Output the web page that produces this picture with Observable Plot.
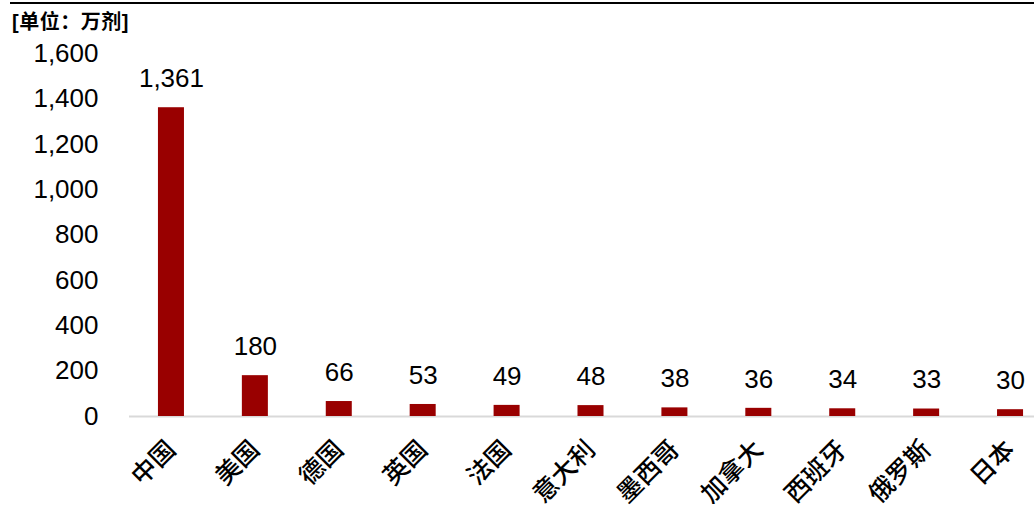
<!DOCTYPE html>
<html>
<head>
<meta charset="utf-8">
<script src="https://cdn.jsdelivr.net/npm/d3@7"></script>
<script src="https://cdn.jsdelivr.net/npm/@observablehq/plot@0.6"></script>
<style>
  html, body { margin: 0; padding: 0; background: #fff; }
  #wrap { position: relative; width: 1034px; height: 508px; overflow: hidden; }
  #topline { position: absolute; left: 10px; top: 2px; width: 1024px; height: 2px; background: #000; }
  #unit { position: absolute; left: 12px; top: 10px; font: bold 20px "Liberation Sans", "Noto Sans CJK SC", sans-serif; color: #000; line-height: 24px; letter-spacing: 0.5px; }
  svg { font-family: "Liberation Sans", "Noto Sans CJK SC", sans-serif; }
</style>
</head>
<body>
<div id="wrap">
  <div id="topline"></div>
  <div id="unit">[单位：万剂]</div>
  <div id="chart"></div>
</div>
<script>
const countries = ["中国", "美国", "德国", "英国", "法国", "意大利", "墨西哥", "加拿大", "西班牙", "俄罗斯", "日本"];
const doses = [1361, 180, 66, 53, 49, 48, 38, 36, 34, 33, 30];
const yTicks = [0, 200, 400, 600, 800, 1000, 1200, 1400, 1600];

const data = countries.map((c, i) => ({country: c, value: doses[i]}));
const fmt = d3.format(",");

const chart = Plot.plot({
  width: 1034,
  height: 508,
  marginTop: 53,
  marginBottom: 92,
  marginLeft: 129,
  marginRight: 0,
  style: {fontFamily: '"Liberation Sans", "Noto Sans CJK SC", sans-serif', background: "transparent", overflow: "visible"},
  x: {domain: countries, range: [129, 1052], paddingInner: 0.69, paddingOuter: 0.345, round: false, label: null},
  y: {domain: [0, 1600], label: null},
  marks: [
    Plot.ruleY([0], {stroke: "#d9d9d9", strokeWidth: 2}),
    Plot.barY(data, {x: "country", y: "value", fill: "#990000"}),
    Plot.text(data, {x: "country", y: "value", text: d => fmt(d.value), dy: -29, fontSize: 26, fill: "#000"}),
    Plot.axisY({ticks: yTicks, tickFormat: fmt, tickSize: 0, tickPadding: 31, fontSize: 26, label: null}),
    Plot.axisX({tickSize: 0, tickRotate: -45, tickPadding: 29, fontSize: 25, fontWeight: 500, label: null})
  ]
});
document.getElementById("chart").appendChild(chart);
</script>
</body>
</html>
